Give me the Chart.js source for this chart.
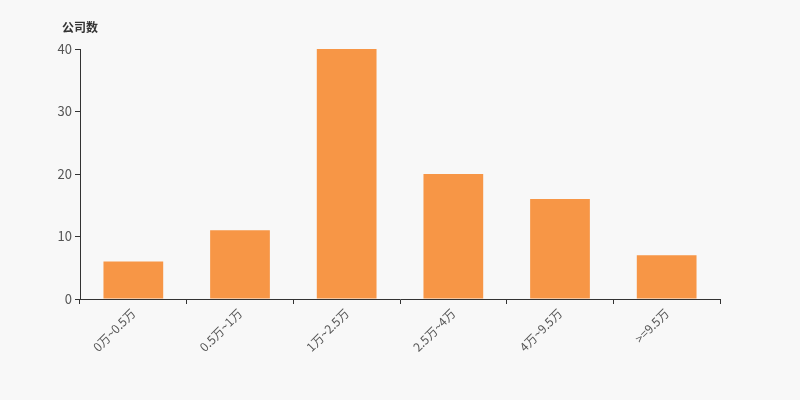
<!DOCTYPE html>
<html>
<head>
<meta charset="utf-8">
<script src="https://cdn.jsdelivr.net/npm/chart.js@4"></script>
<style>
  html, body { margin: 0; padding: 0; background: #f8f8f8; }
  #wrap { width: 800px; height: 400px; }
</style>
</head>
<body>
<div id="wrap"><canvas id="barChart" width="800" height="400"></canvas></div>
<script>
const categories = ['0万~0.5万', '0.5万~1万', '1万~2.5万', '2.5万~4万', '4万~9.5万', '>=9.5万'];
const companyCounts = [6, 11, 40, 20, 16, 7];
const yTicks = [0, 10, 20, 30, 40];
const yTitle = '公司数';

const FONT = '"Noto Sans CJK SC", "Noto Sans", sans-serif';

// draws the unit label above the y axis
const unitLabel = {
  id: 'unitLabel',
  afterDraw(chart) {
    const ctx = chart.ctx;
    ctx.save();
    ctx.font = 'bold 12px ' + FONT;
    ctx.fillStyle = '#333';
    ctx.textAlign = 'left';
    ctx.textBaseline = 'middle';
    ctx.fillText(yTitle, 62, 27);
    ctx.restore();
  }
};

document.addEventListener('DOMContentLoaded', function () {
  const ctx = document.getElementById('barChart').getContext('2d');

  new Chart(ctx, {
    type: 'bar',
    data: {
      labels: categories,
      datasets: [{
        label: yTitle,
        data: companyCounts,
        backgroundColor: '#f79646',
        borderWidth: 0,
        barPercentage: 0.56,
        categoryPercentage: 1
      }]
    },
    options: {
      responsive: false,
      animation: false,
      layout: { padding: { left: 0, right: 80, top: 49, bottom: 0 } },
      plugins: {
        legend: { display: false },
        tooltip: { enabled: false }
      },
      scales: {
        x: {
          offset: true,
          grid: { display: true, drawOnChartArea: false, offset: true, tickLength: 5, color: '#333' },
          border: { color: '#333', width: 1 },
          ticks: {
            minRotation: 45,
            maxRotation: 45,
            color: '#555',
            font: { family: FONT, size: 12 },
            padding: 2
          },
          afterFit(scale) { scale.height = 101; }
        },
        y: {
          min: 0,
          max: 40,
          afterBuildTicks(scale) { scale.ticks = yTicks.map(v => ({ value: v })); },
          grid: { display: true, drawOnChartArea: false, tickLength: 5, color: '#333' },
          border: { color: '#333', width: 1 },
          ticks: {
            color: '#555',
            font: { family: FONT, size: 13 },
            padding: 3
          },
          afterFit(scale) { scale.width = 80; }
        }
      }
    },
    plugins: [unitLabel]
  });
});
</script>
</body>
</html>
